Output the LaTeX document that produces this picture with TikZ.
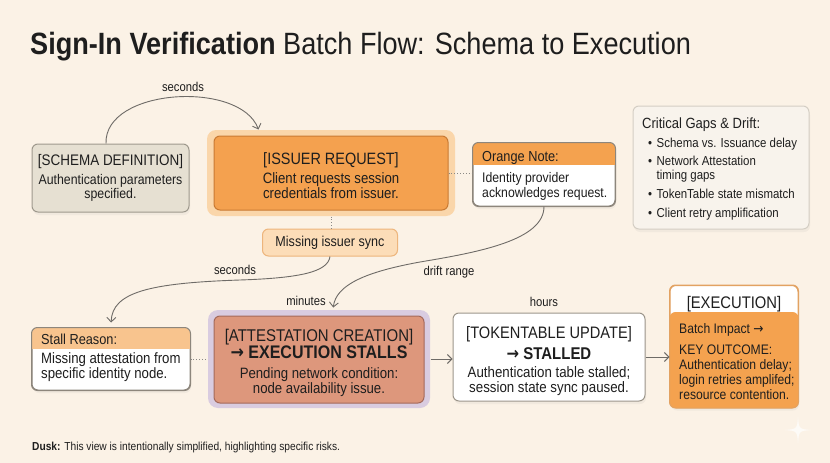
\documentclass[tikz,border=0pt]{standalone}
\usepackage{fontspec}
\setmainfont{Liberation Sans}[FakeStretch=0.88]
\newfontfamily\arrfont{DejaVu Sans}[FakeStretch=0.88]
\usetikzlibrary{arrows.meta,calc,shadows}
\newcommand\myfs[2]{\fontsize{#1}{#2}\selectfont}
\newcommand\rarr{{\arrfont →}}
\definecolor{bg}{HTML}{FBF2E6}
\definecolor{ink}{HTML}{1E1E1E}
\definecolor{conn}{HTML}{6E6B67}
\definecolor{schemafill}{HTML}{E6E0D2}
\definecolor{schemadraw}{HTML}{9E998D}
\definecolor{issglowc}{HTML}{FAD6AA}
\definecolor{issfill}{HTML}{F4A14F}
\definecolor{issdraw}{HTML}{C97A33}
\definecolor{notehead}{HTML}{F4A24F}
\definecolor{notedraw}{HTML}{8D867C}
\definecolor{syncfill}{HTML}{FCDDB8}
\definecolor{syncdraw}{HTML}{EDB57C}
\definecolor{stallhead}{HTML}{F8C48E}
\definecolor{attglowc}{HTML}{D9CCE0}
\definecolor{attfill}{HTML}{DD977C}
\definecolor{attdraw}{HTML}{A4695B}
\definecolor{tokdraw}{HTML}{9C968B}
\definecolor{execdraw}{HTML}{E2A262}
\definecolor{execfill}{HTML}{F4A24F}
\definecolor{critfill}{HTML}{F8F3EC}
\definecolor{critdraw}{HTML}{D4CEC4}
\begin{document}
\begin{tikzpicture}[x=1pt,y=-1pt,
  txt/.style={inner sep=0pt, text=ink},
  box/.style={rounded corners=6pt, inner sep=0pt, line width=1pt, align=center, text=ink},
  shad/.style={drop shadow={opacity=0.08, shadow xshift=1pt, shadow yshift=-3pt}},
  conn/.style={draw=conn, line width=0.9pt},
  arr/.style={conn, -{Straight Barb[length=4.5pt,width=9pt]}},
  dotc/.style={draw=conn!80, line width=0.9pt, dotted},
  lbl/.style={txt, font=\myfs{12.8}{14}},
]
\fill[bg] (0,0) rectangle (830,463);
\useasboundingbox (0,0) rectangle (830,463);

% title
\node[txt, anchor=base west, font=\myfs{30.8}{34}] (title) at (30,54)
  {\textbf{Sign-In Verification} Batch Flow: Schema to Execution};

% schema definition
\node[box, shad, fill=schemafill, draw=schemadraw, minimum width=157pt, minimum height=68pt,
  font=\myfs{14}{14.5}] (schema) at (110.5,178)
  {{\myfs{15.3}{17}[SCHEMA DEFINITION]}\\[4pt]Authentication parameters\\specified.};

% issuer request
\node[box, rounded corners=9pt, fill=issglowc, draw=none, minimum width=248pt, minimum height=86pt] (issglow) at (331,173) {};
\node[box, fill=issfill, draw=issdraw, minimum width=234pt, minimum height=74pt,
  font=\myfs{15}{15}] (issuer) at (331,173)
  {{\myfs{16.4}{18}\rule{0pt}{17pt}[ISSUER REQUEST]}\\[4pt]Client requests session\\credentials from issuer.};

% orange note
\node[box, shad, fill=white, draw=notedraw, minimum width=142pt, minimum height=63pt] (note) at (544,174.5) {};
\begin{scope}
  \clip[rounded corners=6pt] (note.north west) rectangle (note.south east);
  \fill[notehead] (note.north west) rectangle ($(note.north east)+(0,22)$);
\end{scope}
\draw[notedraw, line width=1pt, rounded corners=6pt] (note.north west) rectangle (note.south east);
\node[txt, anchor=base west, font=\myfs{14.5}{16}] (notehd) at (482,161) {Orange Note:};
\node[txt, anchor=base west, align=left, font=\myfs{13.9}{15}] (notebd) at (482,197)
  {Identity provider\\acknowledges request.};

% critical gaps
\node[box, shad, fill=critfill, draw=critdraw, minimum width=176pt, minimum height=123pt] (crit) at (721,167.5) {};
\node[txt, anchor=base west, font=\myfs{14.8}{16}] (crittitle) at (642,128) {Critical Gaps \& Drift:};
\node[txt, anchor=base west, font=\myfs{13}{14}] (gap1) at (648,147) {•\hspace{4.5pt}Schema vs. Issuance delay};
\node[txt, anchor=base west, font=\myfs{13}{14}] (gap2) at (648,165) {•\hspace{4.5pt}\parbox[t]{140pt}{Network Attestation\\timing gaps}};
\node[txt, anchor=base west, font=\myfs{13}{14}] (gap3) at (648,198) {•\hspace{4.5pt}TokenTable state mismatch};
\node[txt, anchor=base west, font=\myfs{13}{14}] (gap4) at (648,217) {•\hspace{4.5pt}Client retry amplification};

% missing issuer sync
\node[box, fill=syncfill, draw=syncdraw, minimum width=135pt, minimum height=27pt,
  font=\myfs{14.3}{15}] (sync) at (330,242.5) {Missing issuer sync};

% stall reason
\node[box, shad, fill=white, draw=notedraw, minimum width=158pt, minimum height=62pt] (stall) at (111,359) {};
\begin{scope}
  \clip[rounded corners=6pt] (stall.north west) rectangle (stall.south east);
  \fill[stallhead] (stall.north west) rectangle ($(stall.north east)+(0,21)$);
\end{scope}
\draw[notedraw, line width=1pt, rounded corners=6pt] (stall.north west) rectangle (stall.south east);
\node[txt, anchor=base west, font=\myfs{14.5}{16}] (stallhd) at (41,344) {Stall Reason:};
\node[txt, anchor=base west, align=left, font=\myfs{15}{15}] (stallbd) at (41,378)
  {Missing attestation from\\specific identity node.};

% attestation creation
\node[box, rounded corners=10pt, fill=attglowc, draw=none, minimum width=222pt, minimum height=98pt] (attglow) at (319,359) {};
\node[box, fill=attfill, draw=attdraw, minimum width=210pt, minimum height=87pt,
  font=\myfs{15}{15}] (att) at (319,359.5)
  {{\myfs{17}{18}\rule{0pt}{19pt}[ATTESTATION CREATION]}\\[0pt]{\myfs{18.2}{18}\bfseries \rarr\ EXECUTION STALLS}\\[5pt]Pending network condition:\\node availability issue.};

% tokentable update
\node[box, shad, fill=white, draw=tokdraw, minimum width=192pt, minimum height=88pt,
  font=\myfs{15.1}{15}] (token) at (549,357)
  {{\myfs{16.6}{18}\rule{0pt}{20pt}[TOKENTABLE UPDATE]}\\[4pt]{\myfs{17}{18}\bfseries \rarr\ STALLED}\\[3pt]Authentication table stalled;\\session state sync paused.};

% execution
\node[box, shad, fill=white, draw=execdraw, minimum width=128pt, minimum height=122pt] (exec) at (734,346.5) {};
\begin{scope}
  \clip[rounded corners=6pt] (exec.north west) rectangle (exec.south east);
  \fill[execfill, rounded corners=6pt] ($(exec.north west)+(0,27)$) rectangle ($(exec.south east)+(0,8)$);
\end{scope}
\draw[execdraw, line width=1pt, rounded corners=6pt] (exec.north west) rectangle (exec.south east);
\node[txt, anchor=base, font=\myfs{16.8}{18}] (exectitle) at (734,308) {[EXECUTION]};
\node[txt, anchor=base west, align=left, font=\myfs{13.8}{14.8}] (execbody) at (679,399)
  {Batch Impact \rarr\\[6pt]KEY OUTCOME:\\Authentication delay;\\login retries amplifed;\\resource contention.};

% connectors
\draw[arr] ($(schema.north)+(-4.5,0)$) .. controls (104,88) and (240,80) .. ($(issglow.north west)+(52,0)$);
\node[lbl, anchor=base] (l1) at (183,91) {seconds};

\draw[dotc] (issuer.east) -- (note.west |- issuer.east);
\draw[dotc] (issglow.south) -- (issglow.south |- sync.north);

\draw[arr, shorten >=5pt] (sync.south) .. controls (328,272) and (300,278) .. (240,280)
  .. controls (150,283) and (112,292) .. (stall.north);
\node[lbl, anchor=base] (l2) at (235,274) {seconds};

\draw[arr, shorten >=2pt] (note.south) .. controls (544,240) and (480,252) .. (420,262)
  .. controls (365,272) and (336,285) .. ($(attglow.north)+(14,0)$);
\node[lbl, anchor=base] (l3) at (449,275) {drift range};
\node[lbl, anchor=base] (l4) at (306,305) {minutes};

\draw[dotc] (stall.east) -- (attglow.west);
\draw[arr] (attglow.east) -- (token.west |- attglow.east);
\node[lbl, anchor=base] (l5) at (544,306) {hours};
\draw[arr] (token.east) -- (token.east -| exec.west);

% footer
\node[txt, anchor=base west, font=\myfs{11.6}{13}] (foot) at (32,450)
  {\textbf{Dusk:} This view is intentionally simplified, highlighting specific risks.};

% sparkle
\fill[white, opacity=0.7] (798,417) .. controls (799,429) .. (811,430) .. controls (799,431) .. (798,443)
  .. controls (797,431) .. (785,430) .. controls (797,429) .. (798,417) -- cycle;
\end{tikzpicture}
\end{document}
